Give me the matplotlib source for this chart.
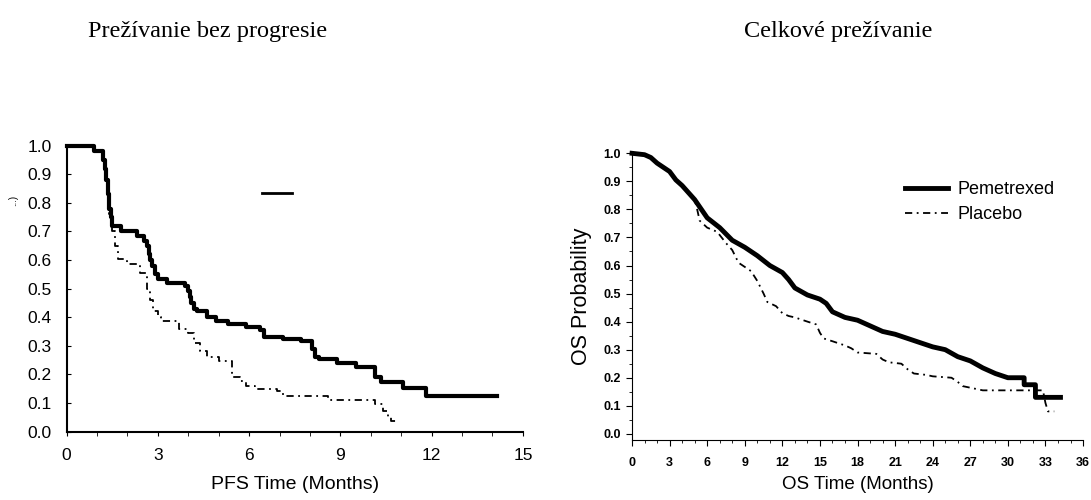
import matplotlib.pyplot as plt
from matplotlib.ticker import MultipleLocator

# PFS (left panel), Kaplan-Meier step values
pfs_pem_t = [0, 0.9, 1.2, 1.25, 1.3, 1.35, 1.4, 1.45, 1.5, 1.8, 2.3, 2.55, 2.65, 2.7, 2.75, 2.8,
             2.9, 3.0, 3.3, 3.9, 4.0, 4.05, 4.1, 4.2, 4.3, 4.6, 4.9, 5.3, 5.9, 6.35, 6.5, 7.1,
             7.7, 8.05, 8.15, 8.3, 8.9, 9.5, 10.15, 10.35, 11.05, 11.8, 14.15]
pfs_pem_s = [1.0, 0.98, 0.95, 0.92, 0.88, 0.83, 0.78, 0.75, 0.72, 0.70, 0.685, 0.665, 0.65,
             0.62, 0.60, 0.58, 0.55, 0.535, 0.52, 0.51, 0.49, 0.47, 0.45, 0.43, 0.42, 0.40,
             0.385, 0.375, 0.365, 0.355, 0.33, 0.322, 0.317, 0.29, 0.26, 0.252, 0.24, 0.225,
             0.19, 0.172, 0.152, 0.123, 0.123]
pfs_pla_t = [0, 0.9, 1.2, 1.25, 1.3, 1.35, 1.4, 1.5, 1.6, 1.7, 2.0, 2.4, 2.65, 2.75, 2.85, 3.0,
             3.1, 3.7, 4.0, 4.2, 4.4, 4.6, 5.0, 5.45, 5.7, 5.9, 6.2, 6.9, 7.1, 8.6, 10.15, 10.4,
             10.55, 10.65, 10.85]
pfs_pla_s = [1.0, 0.98, 0.95, 0.92, 0.88, 0.83, 0.76, 0.70, 0.65, 0.605, 0.585, 0.555, 0.50,
             0.46, 0.42, 0.40, 0.385, 0.36, 0.345, 0.31, 0.28, 0.26, 0.245, 0.19, 0.175, 0.16,
             0.15, 0.14, 0.125, 0.11, 0.095, 0.07, 0.05, 0.035, 0.035]

# OS (right panel)
os_pem_t = [0, 1, 1.5, 2, 3, 3.5, 4, 5, 6, 7, 8, 9, 10, 11, 12, 12.5, 13, 14, 15, 15.5, 16, 17,
            18, 19, 20, 21, 22, 23, 24, 25, 26, 27, 28, 29, 30, 31.3, 31.3, 32.2, 32.2, 34.2]
os_pem_s = [1.0, 0.995, 0.985, 0.965, 0.935, 0.905, 0.885, 0.835, 0.77, 0.735, 0.69, 0.665,
            0.635, 0.60, 0.575, 0.55, 0.52, 0.495, 0.48, 0.465, 0.435, 0.415, 0.405, 0.385,
            0.365, 0.355, 0.34, 0.325, 0.31, 0.30, 0.275, 0.26, 0.235, 0.215, 0.20, 0.20,
            0.175, 0.175, 0.13, 0.13]
os_pla_t = [0, 1, 1.5, 2, 3, 3.5, 4, 5, 5.2, 5.4, 6, 6.8, 7.5, 8, 8.5, 9, 9.5, 10, 10.5, 10.8,
            11.5, 12, 12.5, 13, 14, 14.7, 15, 15.3, 16, 17, 17.5, 18, 19.5, 20, 20.5, 21.5, 22,
            22.5, 23.5, 24, 25.5, 26, 26.4, 28, 32.8, 33.0, 33.2, 33.7]
os_pla_s = [1.0, 0.995, 0.985, 0.965, 0.935, 0.905, 0.885, 0.835, 0.80, 0.76, 0.735, 0.72, 0.68,
            0.655, 0.61, 0.595, 0.58, 0.545, 0.50, 0.47, 0.455, 0.43, 0.42, 0.415, 0.40, 0.39,
            0.36, 0.34, 0.33, 0.315, 0.305, 0.29, 0.285, 0.265, 0.255, 0.25, 0.23, 0.215,
            0.21, 0.205, 0.20, 0.185, 0.17, 0.155, 0.155, 0.11, 0.08, 0.08]

fig = plt.figure(figsize=(10.91, 5.0), dpi=100)
plt.rcParams['font.family'] = ['Liberation Sans', 'DejaVu Sans']
dash_dot = (0, (4, 2.5, 1, 2.5))

# titles
fig.text(0.19, 0.938, 'Prežívanie bez progresie', fontsize=17.5, family='Liberation Serif',
         ha='center', va='center')
fig.text(0.768, 0.938, 'Celkové prežívanie', fontsize=17.5, family='Liberation Serif',
         ha='center', va='center')

# ---- left: PFS
ax1 = fig.add_axes([0.0611, 0.137, 0.4182, 0.5716])
ax1.plot(pfs_pem_t, pfs_pem_s, drawstyle='steps-post', color='black', lw=3, clip_on=False)
ax1.plot(pfs_pla_t, pfs_pla_s, drawstyle='steps-post', color='black', lw=1.3,
         linestyle=dash_dot, clip_on=False)
ax1.set_xlim(0, 15)
ax1.set_ylim(0, 1.0)
ax1.xaxis.set_major_locator(MultipleLocator(3))
ax1.xaxis.set_minor_locator(MultipleLocator(1))
ax1.yaxis.set_major_locator(MultipleLocator(0.1))
ax1.yaxis.set_major_formatter(plt.FormatStrFormatter('%.1f'))
ax1.tick_params(axis='x', which='both', direction='out', labelsize=12.5, length=3, pad=9)
ax1.tick_params(axis='y', direction='in', labelsize=12.5, length=3, pad=11)
for s in ['top', 'right']:
    ax1.spines[s].set_visible(False)
for s in ['left', 'bottom']:
    ax1.spines[s].set_linewidth(1.5)
ax1.set_xlabel('PFS Time (Months)', fontsize=14, labelpad=9)
ax1.plot([0.428, 0.494], [0.834, 0.834], transform=ax1.transAxes, color='black', lw=2)
fig.text(0.012, 0.6, '...)', rotation=90, fontsize=7, ha='center', va='center')

# ---- right: OS
ax2 = fig.add_axes([0.5793, 0.12, 0.4134, 0.5734])
ax2.plot(os_pem_t, os_pem_s, color='black', lw=3.5, label='Pemetrexed', clip_on=False)
ax2.plot(os_pla_t, os_pla_s, color='black', lw=1.3, linestyle=dash_dot, label='Placebo')
ax2.set_xlim(0, 36)
ax2.set_ylim(-0.022, 1.0)
ax2.xaxis.set_major_locator(MultipleLocator(3))
ax2.xaxis.set_minor_locator(MultipleLocator(1))
ax2.set_yticks([i / 10 for i in range(11)])
ax2.yaxis.set_minor_locator(MultipleLocator(0.05))
ax2.yaxis.set_major_formatter(plt.FormatStrFormatter('%.1f'))
ax2.tick_params(axis='both', which='major', direction='out', labelsize=9, length=4, pad=4)
ax2.tick_params(axis='both', which='minor', direction='out', length=2.5)
ax2.tick_params(axis='x', which='major', pad=8)
for lab in ax2.get_xticklabels() + ax2.get_yticklabels():
    lab.set_fontweight('bold')
for s in ['top', 'right']:
    ax2.spines[s].set_visible(False)
ax2.set_xlabel('OS Time (Months)', fontsize=13.5, labelpad=5)
ax2.set_ylabel('OS Probability', fontsize=15.5, labelpad=8)
ax2.legend(loc='upper left', bbox_to_anchor=(905 / 1091, 1 - 181 / 500),
           bbox_transform=fig.transFigure, frameon=False, fontsize=13, borderpad=0,
           borderaxespad=0, handlelength=2.4, handletextpad=0.5, labelspacing=0.45)

fig.savefig('out.png', dpi=100)
